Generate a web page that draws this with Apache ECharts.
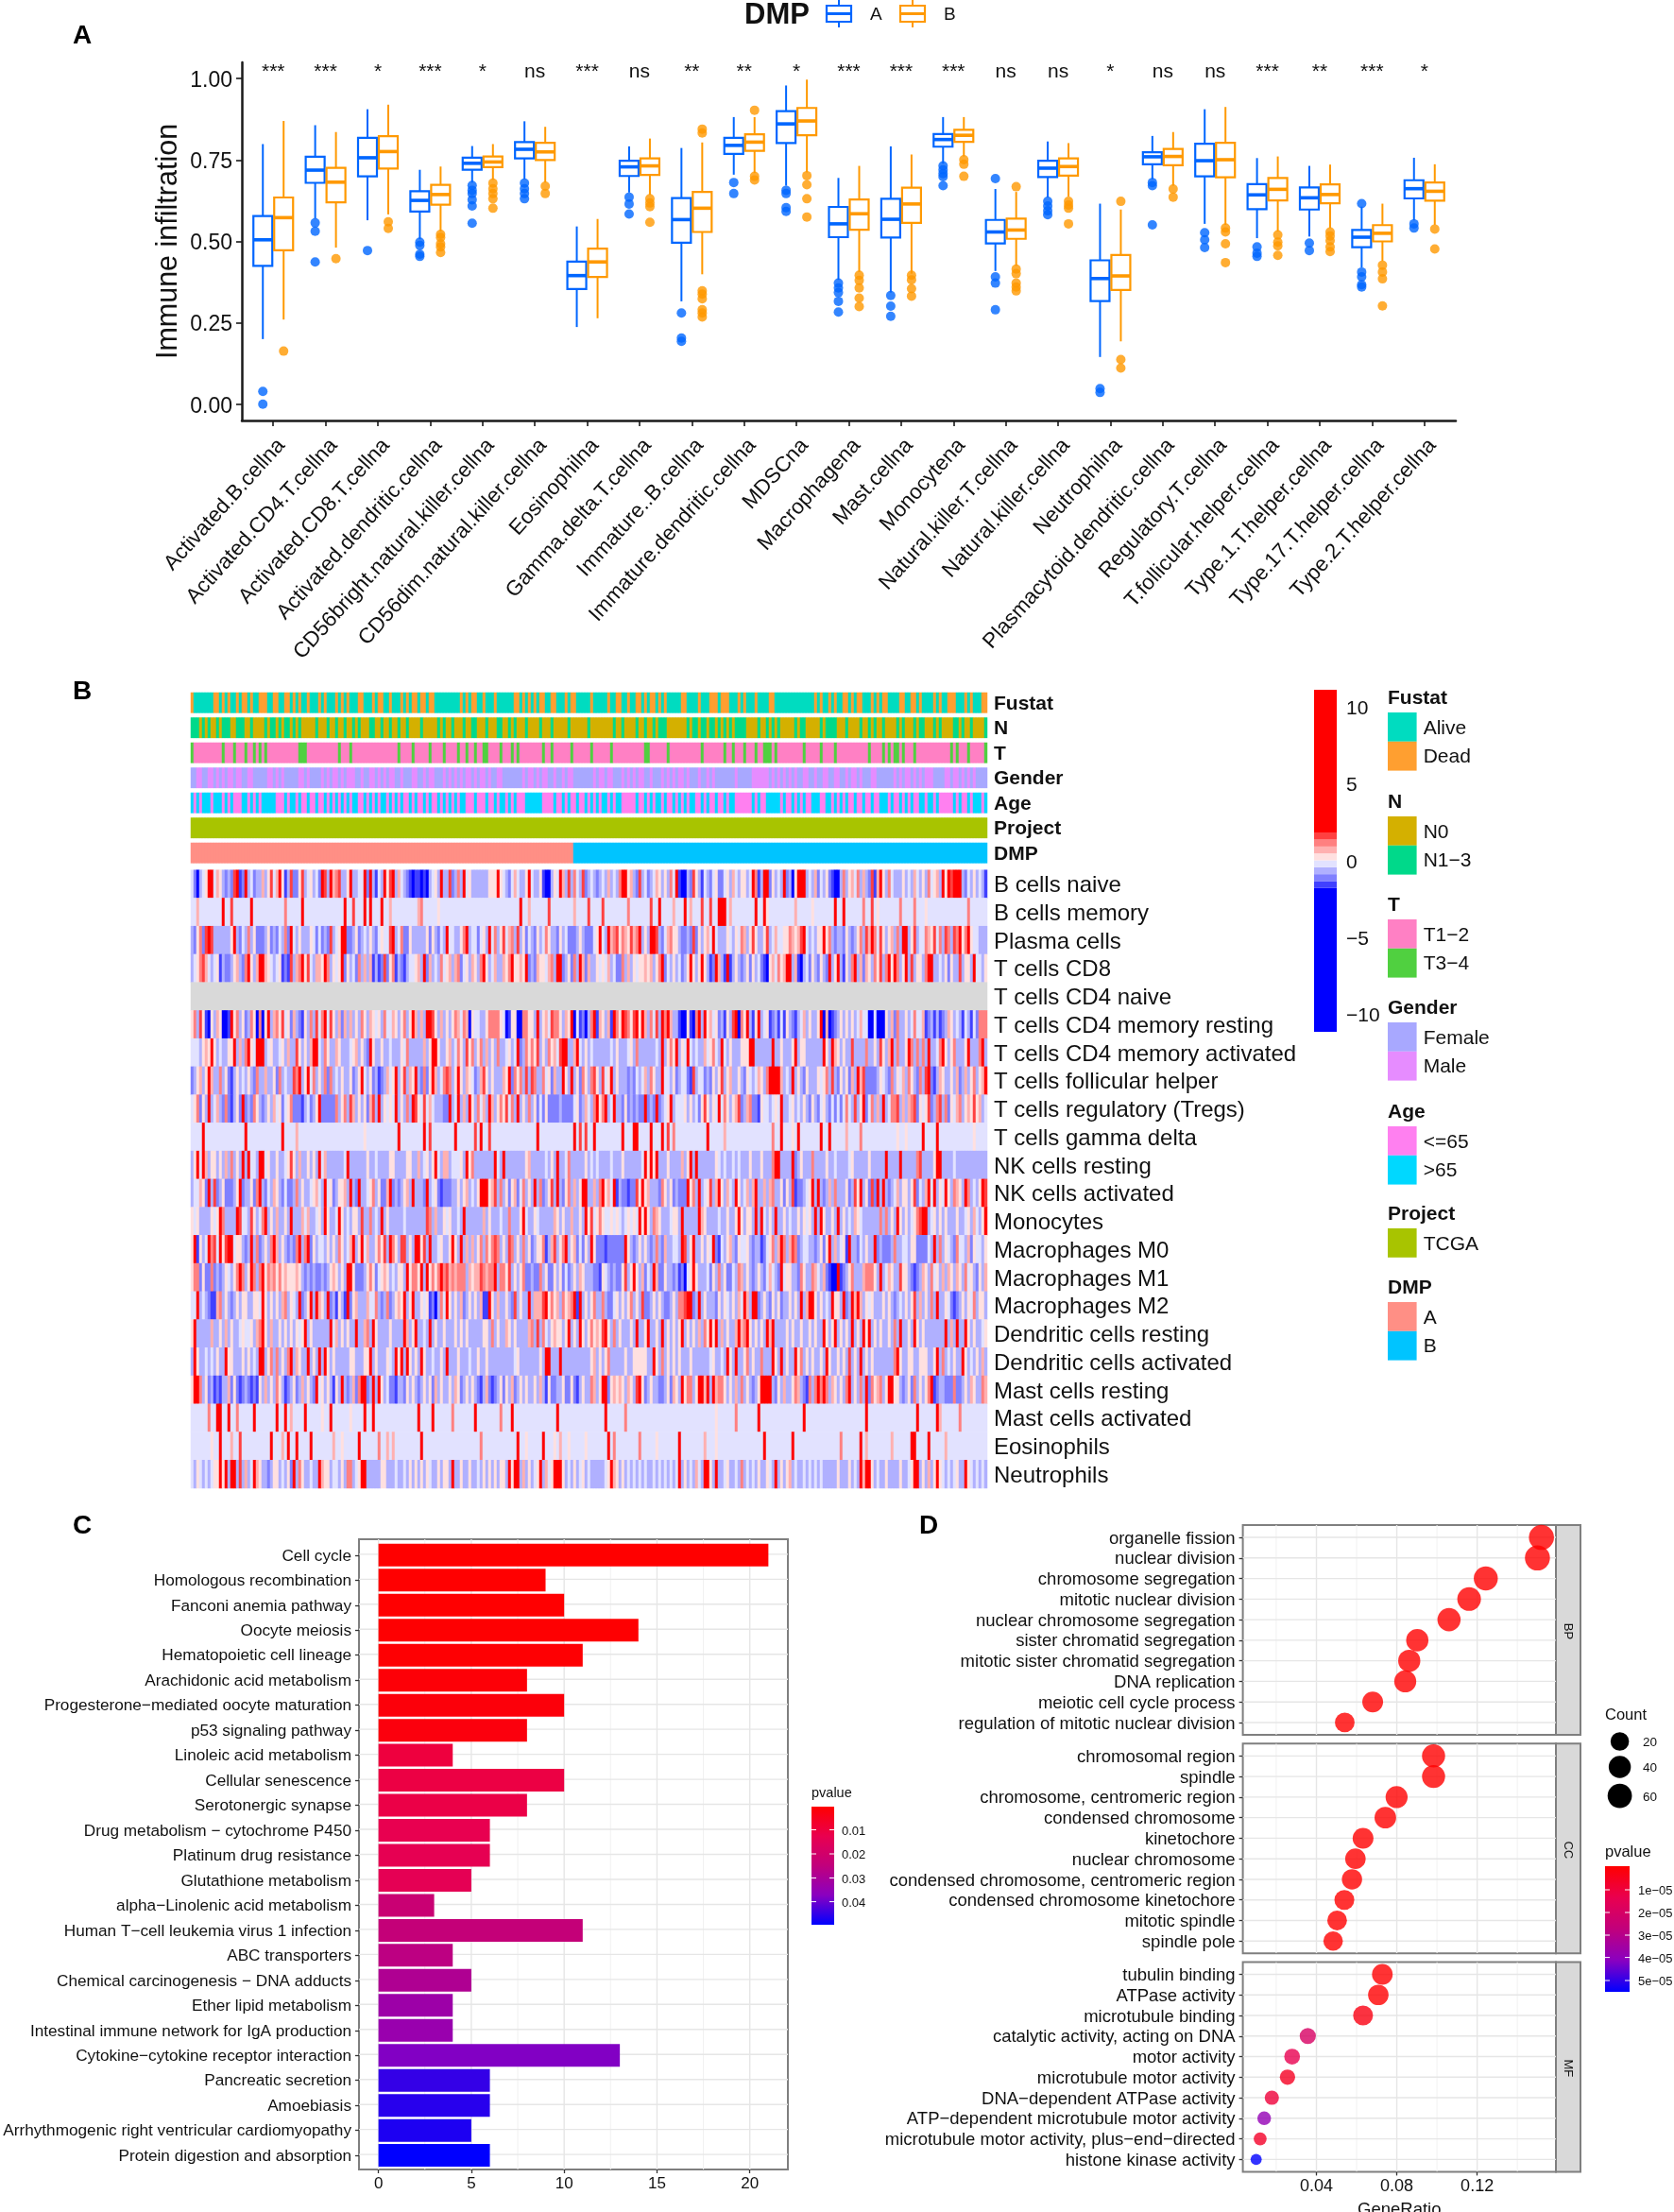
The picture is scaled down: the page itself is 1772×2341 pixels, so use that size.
<!DOCTYPE html>
<html>
<head>
<meta charset="utf-8">
<title>DMP figure</title>
<script src="https://cdn.jsdelivr.net/npm/echarts@6/dist/echarts.min.js"></script>
<style>
html, body { margin: 0; padding: 0; background: #fff; }
#chart { width: 1772px; height: 2341px; }
</style>
</head>
<body>
<div id="chart"></div>
<script>
// ---- panel A ----
const immuneCells = ['Activated.B.cellna', 'Activated.CD4.T.cellna', 'Activated.CD8.T.cellna', 'Activated.dendritic.cellna',
    'CD56bright.natural.killer.cellna', 'CD56dim.natural.killer.cellna', 'Eosinophilna', 'Gamma.delta.T.cellna',
    'Immature..B.cellna', 'Immature.dendritic.cellna', 'MDSCna', 'Macrophagena', 'Mast.cellna', 'Monocytena',
    'Natural.killer.T.cellna', 'Natural.killer.cellna', 'Neutrophilna', 'Plasmacytoid.dendritic.cellna',
    'Regulatory.T.cellna', 'T.follicular.helper.cellna', 'Type.1.T.helper.cellna', 'Type.17.T.helper.cellna', 'Type.2.T.helper.cellna'];
const sigLabels = ['***', '***', '*', '***', '*', 'ns', '***', 'ns', '**', '**', '*', '***', '***', '***', 'ns', 'ns', '*', 'ns', 'ns', '***', '**', '***', '*'];
// low, q1, median, q3, high
const boxStatsA = [
    [.20, .425, .505, .578, .799], [.57, .68, .719, .76, .857], [.565, .70, .757, .818, .906], [.507, .592, .626, .654, .72],
    [.681, .72, .74, .757, .793], [.691, .755, .783, .805, .869], [.237, .354, .395, .438, .546], [.65, .701, .729, .748, .792],
    [.316, .496, .567, .633, .787], [.705, .769, .795, .818, .882], [.671, .802, .861, .90, .979], [.382, .513, .554, .606, .695],
    [.343, .512, .568, .631, .792], [.739, .791, .813, .83, .882], [.409, .494, .529, .566, .661], [.635, .698, .725, .748, .807],
    [.145, .317, .386, .442, .616], [.691, .737, .76, .774, .824], [.554, .70, .748, .80, .906], [.51, .599, .643, .676, .756],
    [.515, .598, .634, .666, .732], [.42, .482, .513, .535, .607], [.565, .632, .662, .688, .757]];
const boxStatsB = [
    [.26, .473, .573, .635, .87], [.481, .62, .682, .726, .836], [.583, .724, .776, .823, .92], [.531, .613, .644, .674, .73],
    [.689, .728, .744, .761, .799], [.681, .75, .775, .803, .852], [.264, .391, .437, .478, .569], [.643, .704, .732, .755, .816],
    [.399, .529, .602, .652, .804], [.71, .778, .805, .829, .882], [.712, .826, .87, .91, .997], [.406, .536, .585, .629, .732],
    [.401, .557, .615, .665, .767], [.761, .806, .826, .843, .882], [.425, .508, .535, .57, .652], [.638, .702, .73, .755, .802],
    [.193, .351, .394, .458, .598], [.671, .734, .761, .784, .836], [.551, .697, .751, .803, .913], [.531, .626, .66, .695, .761],
    [.541, .617, .644, .675, .736], [.44, .50, .525, .55, .616], [.551, .625, .654, .681, .737]];
const outliersA = [
    [.039, 0], [.557, .531, .437], [.472], [.498, .488, .461, .454], [.672, .657, .647, .628, .609, .556], [.679, .662, .647, .631], [],
    [.636, .615, .584], [.28, .203, .193], [.681, .647], [.657, .647, .604, .592], [.372, .357, .343, .316, .283], [.334, .301, .27],
    [.732, .72, .708, .699, .671], [.693, .391, .372, .29], [.623, .609, .594, .582], [.048, .036], [.681, .671, .551], [.527, .505, .481],
    [.483, .464, .454], [.495, .472], [.616, .406, .391, .367, .36], [.554, .541]];
const outliersB = [
    [.163], [.447], [.56, .54], [.522, .512, .493, .483, .466], [.679, .662, .647, .631, .602], [.67, .647], [],
    [.631, .618, .607, .559], [.845, .833, .348, .338, .324, .29, .28, .268], [.903, .70, .689], [.702, .674, .631, .575], [.396, .38, .357, .326, .30],
    [.396, .382, .355, .332], [.751, .737, .70], [.668, .415, .401, .372, .36, .348], [.623, .612, .602, .554], [.623, .137, .111], [.661, .636],
    [.541, .529, .493, .435], [.52, .498, .486, .457], [.529, .517, .502, .483, .469], [.427, .406, .385, .302], [.538, .477]];
const immuneTicks = [0, .25, .5, .75, 1];

// ---- panel B ----
const trackNames = ['Fustat', 'N', 'T', 'Gender', 'Age', 'Project', 'DMP'];
const fustatDead = [0, 8, 9, 11, 13, 16, 18, 19, 21, 24, 25, 26, 29, 30, 33, 34, 36, 38, 41, 45, 47, 51, 53, 55, 59, 60, 64, 66, 67, 70, 74, 76, 78, 79, 81, 82, 84, 85, 95, 97, 99, 100, 103, 107, 114, 115, 117, 119, 121, 123, 124, 127, 128, 132, 134, 135,
    141, 147, 150, 151, 154, 157, 158, 160, 162, 163, 165, 167, 173, 174, 179, 183, 184, 185, 187, 188, 189, 193, 195, 199, 204, 205, 220, 222, 225, 227, 230, 231, 233, 235, 236, 240, 242, 244, 245, 250, 251, 254, 255, 257, 262, 264, 267, 268, 269, 273, 275, 279, 280];
const nLate = [0, 1, 2, 4, 6, 9, 11, 12, 13, 16, 17, 18, 21, 26, 28, 29, 31, 33, 34, 36, 38, 44, 48, 51, 54, 57, 59, 63, 64, 67, 70, 73, 76, 81, 87, 89, 92, 96, 99, 100, 104, 108, 109, 112, 114, 118, 123, 127, 133, 140,
    149, 152, 157, 160, 163, 165, 166, 167, 175, 177, 178, 180, 181, 183, 184, 186, 188, 190, 192, 193, 194, 195, 200, 203, 205, 207, 213, 215, 216, 222, 224, 225, 226, 227, 231, 236, 239, 241, 244, 249, 251, 255, 257, 258, 262, 264, 269, 270, 272, 275, 280];
const tLate = [0, 11, 15, 19, 22, 24, 26, 38, 39, 40, 52, 56, 73, 78, 84, 89, 94, 97, 100, 103, 104, 109, 113, 115, 124, 127, 134,
    141, 148, 160, 161, 168, 180, 188, 191, 195, 199, 202, 203, 204, 206, 216, 222, 227, 239, 244, 246, 248, 249, 251, 255, 268, 270, 274, 280];
const genderRow = '0011001101 0101101100 1100000110 1010000011 0100001010 1101011100 1001101010 1100100011 0010110001 0101010110 1011010011 0000000101 1010110010 0101100000 0 ' +
    '0101101100 0101010110 0100010101 0110100010 0101000000 0100000111 1110101010 1010011001 0011001100 1011010001 1000000101 0110101011 1000011011 0101010000';
const ageRow = '1010111011 1010100011 0101011111 0001011010 0100100101 0101010110 0101010110 1010100101 0010100101 0101011000 1000100101 1010100011 1111000010 0101001001 0 ' +
    '1010110101 1000001001 0101101001 0101011001 0100100101 1000000101 0011111010 0101010011 1001101010 1001001001 0011101001 0101001101 1010000010 1001011101';
const dmpSplitColumn = 135;
const columnCount = 281;

const heatCells = ['B cells naive', 'B cells memory', 'Plasma cells', 'T cells CD8', 'T cells CD4 naive', 'T cells CD4 memory resting',
    'T cells CD4 memory activated', 'T cells follicular helper', 'T cells regulatory (Tregs)', 'T cells gamma delta', 'NK cells resting',
    'NK cells activated', 'Monocytes', 'Macrophages M0', 'Macrophages M1', 'Macrophages M2', 'Dendritic cells resting',
    'Dendritic cells activated', 'Mast cells resting', 'Mast cells activated', 'Eosinophils', 'Neutrophils'];

// one digit per column, 0 = full blue ... 9 = full red
const bNaive = '4203459946 5323289129 3423363584 6951382258 3453429839 6783359334 4929314395 8936432101 1010345393 3823739453 3333355595 4324643359 4335100354 9638374382 3 4323436343 7995632834 2346535374 9100328531 4324522453 6435534971 3992534392 3059993436 2435210037 3564736328 1695374333 5343643537 4563959899 9324353431';
const plasma = '3257289833 3333593243 7352223523 2437294353 3354242328 3459922352 3435324544 8934722533 3335253243 9443357934 4245394735 8467383524 3253475332 5342223532 2 2459439678 5765867935 3998324675 5322328253 5649433354 3547635853 3583464455 7656894343 5595732332 5323573869 7485356373 9935834476 5847387387 9579544333';
const cd8 = '3457864345 1322356327 9536996543 4512183679 5843665973 5459253427 3636131282 5713213445 6392634374 5636724536 5379534633 6579556592 3265546739 9235273962 6 3354546342 2736354556 5635792435 3423595359 5312963191 3532352534 2105647569 9361034253 2532935931 5379362653 7583795973 5938355379 9334352533 8355394435';
const cd4Resting = '5738510536 5001957352 3750705936 7584526321 5373847948 5362636353 7536545374 4653573596 3639985363 5357647605 4433577775 4015500775 5393564877 5365904120 3 7916536197 5987589596 3748397963 3100510793 9564523153 8907593159 3451231415 3213463533 5906012353 5353464400 4000536273 3534744612 3131236534 3143142777';
const cd4Activated = '4443565953 4335593637 9549993453 3453633853 5369943753 3653334563 5329533533 4333547333 3363599533 5634753857 3573635373 3453492375 7583537564 8993369435 3 4333333435 3334537333 3334393575 9354943433 6457439435 3335559933 3333933533 3593553333 3395396535 3383333733 5385369373 3597373739 3347953573 3359333793';
const follicular = '2356359633 7352135343 5327336335 2734338793 5947353727 3435335235 9435231236 4593583659 3272596347 8735953654 2368535333 6592757383 8733745263 3953935275 3 7853845935 3332324346 3753394435 2344218344 2325358356 3353254346 5379999634 3935325333 5457383253 5263968222 2354327354 6375327389 2136533536 2363573569';
const tregs = '4572539346 3272135292 3275323536 4524572221 3423592222 2735738635 3526839354 5493537398 5484643332 2934936395 3746396357 5847393537 3524252222 3222245236 4 3795793493 3252323229 2329234593 4445353425 8535494753 5682367221 5443454933 4534353253 2453242424 7438359247 3639347783 6367825458 2378372546 7356585634';
const nkResting = '3594963553 5363735393 9443994533 5334585363 3535394633 3333493333 3353343333 5533335533 6345359436 6344453957 3333333943 9333333356 3333343539 3347333335 3 4343333433 3533333349 5959333533 3363593933 3333543433 4343335333 5333799333 3923533373 3335334333 3453333353 3333933339 3333378333 3599333343 3333333333';
const nkActivated = '3446529382 3522235923 3527932436 5324223735 3345643945 2355639329 3345735226 9232356393 3329345212 2233535634 3599956837 3525624735 3937235839 3257363599 3 3637956491 3221228595 6333275352 3222957393 4583695364 3953463693 3636733525 3812234593 9323637333 5238593528 2939323463 5535824369 4935495376 5397343598';
const monocytes = '5453333545 9733339844 3853479353 6335393336 4633453953 3495343553 8337343935 3333343333 3338736335 4533439333 3336353334 3373335943 3543333365 3533633539 5 8457544545 4345454959 5376533345 5393333396 5333343353 3595355393 9435393353 4335354539 3953353935 3436543333 3373735395 3534578993 4535353335 3345364359';
const m0 = '5915349784 9589945532 3937235379 6353232793 7925344353 5375346935 9463357583 9753883539 9583933453 3595393636 3573757873 5387353735 2355713683 5793562425 3 9522212222 2295323535 3237326334 4398359335 3549214356 3254453233 1245736973 6872344332 3525936345 1933243533 9232223733 4435522224 3937354327 4436254435';
const m1 = '5772522723 2354357973 5973795767 5756555653 2323223235 6535399522 2357524565 3435539577 5939575797 8676777365 6687677937 7583535722 3227352253 5242353653 3 3221543232 2583595362 4396225332 3120459533 3425373522 4376353235 3246432945 5332753376 4362100912 3573336777 5393465338 5532123653 7453636536 5374532536';
const m2 = '4493432116 7353235355 3355495353 5367354392 3593965392 3153192563 3364473237 2356593593 3545120374 9535362353 5361195363 3532835339 3666895756 3756791935 3 5733732245 3535735382 2353532235 3778992393 5333253543 5364963992 3532535233 5353936995 3534395539 2396963545 3335353234 3535836353 7393354212 3535473553';
const dcResting = '5933333633 5363533454 4536795363 3535353545 9353333339 4635353393 3673953333 5333396359 3343935335 3335353533 3335537353 3653533336 7383743565 5359353953 5 7565895373 5333539335 9335393535 3593535363 7595936353 3696795353 5396933335 3533533535 3395359353 5393539593 5353353739 3353953533 3333393639 3395353345';
const dcActivated = '3953343435 3395533353 5343993573 7353793653 3935393953 5333335533 3559353335 4395939535 3953343353 9333533343 3533533333 3333453333 3335399333 9333333333 3 5635357333 3353355555 3395373535 3533353333 3345334395 3933573533 7333953935 3395735353 3539533535 3835393535 3333333795 3355335553 3593734353 3953435363';
const mastResting = '5997352312 1336252123 2121536353 7531235236 3532945353 1539323627 9923939534 2213325353 2353526353 3536523535 3213621235 2536235353 3536315223 3522521353 3 7635992565 6536538952 3533223526 5395773599 6939677535 3637353235 9999325363 3576321737 9797365353 7935373927 5673599553 2352735357 9123322272 2353653376';
const neutrophils = '4354343455 9593993836 3496533235 5343529375 3343396553 4435377345 9933333553 3343343535 3535433535 5393353353 3435353535 5395993635 3459364599 9534353453 4 3333345965 3534343434 3343434343 4935343643 9953933453 3437343435 3354393535 6343343434 3433333533 3534396995 3433533335 3345993536 3595434345 3395434343';
// sparse rows: [column, digit] on a pale background
const bMemory = [[2, 6], [11, 9], [14, 8], [21, 9], [33, 7], [39, 9], [54, 9], [57, 8], [61, 9], [63, 9], [67, 9], [70, 6], [80, 6], [81, 7], [87, 5], [116, 9], [119, 6], [126, 8], [135, 6], [140, 8],
    [145, 8], [154, 7], [162, 8], [165, 9], [170, 6], [174, 9], [176, 6], [180, 8], [183, 8], [186, 9], [187, 9], [188, 9], [190, 6], [199, 9], [202, 9], [203, 5], [213, 6], [219, 5], [227, 9], [230, 9], [237, 7], [240, 8], [242, 5], [250, 7], [255, 7], [259, 5], [274, 7]];
const gammaDelta = [[4, 9], [19, 9], [32, 9], [37, 6], [61, 5], [73, 9], [82, 9], [84, 8], [93, 9], [100, 8], [102, 9], [105, 8], [122, 9], [135, 9], [137, 8], [139, 8],
    [142, 9], [152, 9], [156, 9], [157, 9], [162, 9], [166, 9], [168, 8], [170, 7], [182, 9], [188, 6], [205, 7], [208, 9], [212, 5], [214, 9], [222, 9], [225, 9], [231, 6], [236, 7], [249, 5], [252, 5], [258, 9], [263, 9], [276, 5]];
const mastActivated = [[6, 7], [9, 9], [10, 9], [13, 9], [16, 7], [22, 9], [30, 9], [33, 9], [35, 6], [40, 9], [46, 5], [49, 9], [56, 5], [61, 9], [64, 9], [80, 9], [85, 9], [92, 7], [100, 9], [109, 7], [113, 9], [129, 9],
    [146, 9], [153, 7], [185, 5], [192, 7], [200, 9], [216, 9], [238, 9], [256, 9], [263, 9], [264, 6], [271, 7]];
const eosinophils = [[7, 5], [10, 9], [14, 6], [17, 8], [28, 9], [32, 6], [34, 9], [37, 9], [42, 9], [50, 6], [53, 5], [59, 9], [66, 7], [69, 6], [71, 6], [81, 9], [102, 7], [115, 9], [118, 5], [124, 9], [128, 5], [130, 6], [133, 5], [139, 5],
    [147, 9], [149, 7], [158, 7], [164, 5], [172, 9], [181, 6], [185, 5], [202, 9], [212, 9], [229, 7], [236, 9], [238, 6], [247, 6], [254, 9], [255, 9], [260, 9], [266, 6]];
const levelValues = [-3, -1.5, -1.1, -.6, -.2, .3, .7, 1.2, 1.6, 3];
const levelBreaks = [-11.1, -1.74, -1.29, -.84, -.39, .06, .51, .96, 1.41, 1.88, 11.16];
const colorbarTicks = [-10, -5, 0, 5, 10];

// ---- panel C ----
const pathways = ['Cell cycle', 'Homologous recombination', 'Fanconi anemia pathway', 'Oocyte meiosis', 'Hematopoietic cell lineage',
    'Arachidonic acid metabolism', 'Progesterone\u2212mediated oocyte maturation', 'p53 signaling pathway', 'Linoleic acid metabolism',
    'Cellular senescence', 'Serotonergic synapse', 'Drug metabolism \u2212 cytochrome P450', 'Platinum drug resistance', 'Glutathione metabolism',
    'alpha\u2212Linolenic acid metabolism', 'Human T\u2212cell leukemia virus 1 infection', 'ABC transporters', 'Chemical carcinogenesis \u2212 DNA adducts',
    'Ether lipid metabolism', 'Intestinal immune network for IgA production', 'Cytokine\u2212cytokine receptor interaction', 'Pancreatic secretion',
    'Amoebiasis', 'Arrhythmogenic right ventricular cardiomyopathy', 'Protein digestion and absorption'];
const pathwayCounts = [21, 9, 10, 14, 11, 8, 10, 8, 4, 10, 8, 6, 6, 5, 3, 11, 4, 5, 4, 4, 13, 6, 6, 5, 6];
const pathwayP = [.0004, .0005, .0006, .0007, .0008, .0015, .002, .0025, .010, .011, .0115, .013, .0135, .014, .0225, .024, .026, .029, .033, .034, .038, .045, .046, .047, .0496];
const barTicks = [0, 5, 10, 15, 20];
const barMinorTicks = [2.5, 7.5, 12.5, 17.5];

// ---- panel D ----
const ontologyNames = ['BP', 'CC', 'MF'];
const bpTerms = ['organelle fission', 'nuclear division', 'chromosome segregation', 'mitotic nuclear division', 'nuclear chromosome segregation',
    'sister chromatid segregation', 'mitotic sister chromatid segregation', 'DNA replication', 'meiotic cell cycle process', 'regulation of mitotic nuclear division'];
const bpRatio = [.152, .150, .1243, .116, .106, .0902, .0862, .0842, .068, .0541];
const bpCount = [70, 69, 57, 53, 49, 41, 40, 39, 31, 25];
const bpP = [1e-9, 1e-9, 1e-9, 1e-9, 1e-9, 1e-9, 1e-9, 1e-9, 1e-9, 1e-9];
const ccTerms = ['chromosomal region', 'spindle', 'chromosome, centromeric region', 'condensed chromosome', 'kinetochore', 'nuclear chromosome',
    'condensed chromosome, centromeric region', 'condensed chromosome kinetochore', 'mitotic spindle', 'spindle pole'];
const ccRatio = [.0983, .0983, .0799, .0743, .0632, .0594, .0577, .0539, .0503, .0483];
const ccCount = [48, 48, 39, 36, 31, 29, 28, 26, 25, 24];
const ccP = [1e-8, 1e-8, 1e-8, 1e-8, 1e-8, 1e-8, 1e-8, 1e-8, 1e-8, 1e-8];
const mfTerms = ['tubulin binding', 'ATPase activity', 'microtubule binding', 'catalytic activity, acting on DNA', 'motor activity', 'microtubule motor activity',
    'DNA\u2212dependent ATPase activity', 'ATP\u2212dependent microtubule motor activity', 'microtubule motor activity, plus\u2212end\u2212directed', 'histone kinase activity'];
const mfRatio = [.0728, .0708, .0632, .0357, .0279, .0256, .0178, .014, .012, .01];
const mfCount = [30, 29, 26, 13, 12, 11, 9, 8, 7, 5];
const mfP = [1e-7, 2e-7, 3e-6, 2e-5, 1.4e-5, 6e-6, 1e-5, 3.9e-5, 7e-6, 5.5e-5];
const ratioTicks = [.04, .08, .12];
const ratioMinorTicks = [.02, .06, .1, .14];
const countLegend = [20, 40, 60];

// ---- styles ----
const FONT = '"Liberation Sans", Arial, sans-serif';
const INK = '#111';
const BORDER = '#7f7f7f';
const BLUE = '#0066ff';
const ORANGE = '#ff9900';
const heatColors = ['#0000ff', '#4040ff', '#8080ff', '#b0b0ff', '#e2e2ff', '#ffe0e0', '#ffb0b0', '#ff8080', '#ff4040', '#ff0000'];
const ramp = ['#ff0000', '#e9004f', '#c1007c', '#8a00c0', '#0000ff'];
const trackColors = {
    Fustat: ['#00dcc0', '#ff9f30'], N: ['#d4b000', '#00d98a'], T: ['#ff80c4', '#50d040'], Gender: ['#a8a8ff', '#e68cff'],
    Age: ['#ff80f0', '#00d8ff'], Project: ['#a8c400'], DMP: ['#ff8f85', '#00c4ff']
};
const legendLabels = {
    Fustat: ['Alive', 'Dead'], N: ['N0', 'N1\u22123'], T: ['T1\u22122', 'T3\u22124'], Gender: ['Female', 'Male'],
    Age: ['<=65', '>65'], Project: ['TCGA'], DMP: ['A', 'B']
};
const legendTitleY = [738, 848, 957, 1066, 1176, 1284, 1362];

const chart = echarts.init(document.getElementById('chart'));
const grid = [], xAxis = [], yAxis = [], series = [], graphic = [], visualMap = [];

function addGrid(g, x, y) {
    // outerBoundsMode none: v6 would otherwise squeeze a grid whose labels reach the page edge
    grid.push(Object.assign({ containLabel: false, outerBoundsMode: 'none' }, g));
    const i = grid.length - 1;
    xAxis.push(Object.assign({ gridIndex: i }, x));
    yAxis.push(Object.assign({ gridIndex: i }, y));
    return i;
}

function addSeries(s) {
    series.push(s);
    return series.length - 1;
}

function text(x, y, str, font, opts) {
    graphic.push(Object.assign({
        type: 'text', x: x, y: y + 1.5, silent: true,
        style: Object.assign({ text: str, font: font + ' ' + FONT, fill: INK, textAlign: 'left', textVerticalAlign: 'middle' }, opts || {})
    }));
}

function rect(x, y, w, h, fill, stroke, lineWidth) {
    graphic.push({
        type: 'rect', silent: true, shape: { x: x, y: y, width: w, height: h },
        style: { fill: fill, stroke: stroke || null, lineWidth: lineWidth || 0 }
    });
}

// ggplot-like grid lines, drawn as a custom series because min is not a tick multiple
function gridLines(axisIdx, vertical, values, color, width) {
    addSeries({
        type: 'custom', xAxisIndex: axisIdx, yAxisIndex: axisIdx, silent: true, z: 1, clip: true,
        data: values.map((v) => [v]),
        renderItem: (params, api) => {
            const c = params.coordSys;
            const p = vertical ? api.coord([api.value(0), 0])[0] : api.coord([0, api.value(0)])[1];
            const shape = vertical ? { x1: p, y1: c.y, x2: p, y2: c.y + c.height } : { x1: c.x, y1: p, x2: c.x + c.width, y2: p };
            return { type: 'line', shape: shape, style: { stroke: color, lineWidth: width } };
        }
    });
}

// ---- panel A ----
const gridA = addGrid({ left: 256, top: 66, width: 1285, height: 379 }, {
    type: 'value', min: -0.6, max: 22.6,
    axisLine: { show: true, onZero: false, lineStyle: { color: '#1a1a1a', width: 2.5 } },
    axisTick: { show: true, length: 6, lineStyle: { color: '#1a1a1a', width: 1.6 }, customValues: immuneCells.map((c, i) => i) },
    axisLabel: {
        show: true, customValues: immuneCells.map((c, i) => i), rotate: 48, margin: 15, interval: 0,
        verticalAlign: 'top', fontFamily: FONT, fontSize: 22.5, color: INK, hideOverlap: false,
        formatter: (v) => immuneCells[v]
    },
    splitLine: { show: false }
}, {
    type: 'value', min: -0.05, max: 1.05,
    name: 'Immune infiltration', nameLocation: 'middle', nameGap: 62, nameRotate: 90, nameMoveOverlap: false,
    nameTextStyle: { fontFamily: FONT, fontSize: 30.5, color: INK },
    axisLine: { show: true, onZero: false, lineStyle: { color: '#1a1a1a', width: 2.5 } },
    axisTick: { show: true, length: 6, lineStyle: { color: '#1a1a1a', width: 1.6 }, customValues: immuneTicks },
    axisLabel: { show: true, customValues: immuneTicks, margin: 10, verticalAlign: 'top', lineHeight: 5, fontFamily: FONT, fontSize: 23, color: INK, formatter: (v) => v.toFixed(2) },
    splitLine: { show: false }
});

function boxRenderer(offset, color) {
    return (params, api) => {
        const x = api.coord([api.value(0), 0])[0] + offset;
        const y = (d) => api.coord([0, api.value(d)])[1];
        const line = (x1, y1, x2, y2, w) => ({ type: 'line', shape: { x1: x1, y1: y1, x2: x2, y2: y2 }, style: { stroke: color, lineWidth: w } });
        return {
            type: 'group',
            children: [
                line(x, y(1), x, y(2), 2),
                line(x, y(4), x, y(5), 2),
                { type: 'rect', shape: { x: x - 10, y: y(4), width: 20, height: y(2) - y(4) }, style: { fill: '#fff', stroke: color, lineWidth: 2.2 } },
                line(x - 10, y(3), x + 10, y(3), 3.6)
            ]
        };
    };
}

[[boxStatsA, outliersA, -11, BLUE], [boxStatsB, outliersB, 11, ORANGE]].forEach(([stats, outliers, offset, color]) => {
    const points = [];
    outliers.forEach((list, i) => list.forEach((v) => points.push([i, v])));
    addSeries({
        type: 'scatter', xAxisIndex: gridA, yAxisIndex: gridA, data: points, symbolSize: 10, symbolOffset: [offset, 0],
        itemStyle: { color: color }, silent: true, z: 2, clip: false
    });
    addSeries({
        type: 'custom', xAxisIndex: gridA, yAxisIndex: gridA, silent: true, z: 3,
        data: stats.map((s, i) => [i].concat(s)), renderItem: boxRenderer(offset, color)
    });
});

addSeries({
    type: 'custom', xAxisIndex: gridA, yAxisIndex: gridA, silent: true, z: 4, clip: false,
    data: sigLabels.map((s, i) => [i, 1, s]),
    renderItem: (params, api) => {
        const p = api.coord([api.value(0), api.value(1)]);
        return {
            type: 'text',
            style: { text: sigLabels[params.dataIndex], x: p[0], y: p[1] - 7, textAlign: 'center', textVerticalAlign: 'middle', font: '21px ' + FONT, fill: INK }
        };
    }
});

// legend above panel A
text(788, 15, 'DMP', 'bold 31px');
[[888, BLUE, 'A', 921], [966, ORANGE, 'B', 999]].forEach(([cx, color, label, tx]) => {
    graphic.push({ type: 'line', silent: true, shape: { x1: cx, y1: 0, x2: cx, y2: 29 }, style: { stroke: color, lineWidth: 2 } });
    rect(cx - 13, 6, 26, 17, '#fff', color, 2.2);
    graphic.push({ type: 'line', silent: true, shape: { x1: cx - 13, y1: 14.5, x2: cx + 13, y2: 14.5 }, style: { stroke: color, lineWidth: 3 } });
    text(tx, 14, label, '19px');
});

// ---- panel B ----
const columns = [];
for (let c = 0; c < columnCount; c++) columns.push(c);

function parseDigits(str) {
    const s = str.replace(/\s/g, '');
    return columns.map((c) => Number(s[Math.min(c, s.length - 1)]));
}

function sparseDigits(list) {
    const out = columns.map(() => 4);
    list.forEach(([c, d]) => { out[c] = d; });
    return out;
}

function stripes(list) {
    const set = new Set(list);
    return columns.map((c) => (set.has(c) ? 1 : 0));
}

const trackColumns = {
    Fustat: stripes(fustatDead), N: stripes(nLate), T: stripes(tLate), Gender: parseDigits(genderRow), Age: parseDigits(ageRow),
    Project: columns.map(() => 0), DMP: columns.map((c) => (c < dmpSplitColumn ? 0 : 1))
};

const trackTops = [733, 759.5, 786, 812.5, 839, 865.5, 892];
const trackSeries = [];
const trackPieces = [];
let trackCode = 0;
trackNames.forEach((name, t) => {
    const g = addGrid({ left: 202, top: trackTops[t], width: 843, height: 21.4 },
        { type: 'category', data: columns, show: false },
        {
            type: 'category', data: [name], position: 'right',
            axisLine: { show: false }, axisTick: { show: false },
            axisLabel: { margin: 7, verticalAlign: 'top', lineHeight: 3, fontFamily: FONT, fontSize: 21, fontWeight: 'bold', color: INK }
        });
    const base = trackCode;
    trackColors[name].forEach((color) => trackPieces.push({ value: trackCode++, color: color }));
    trackSeries.push(addSeries({
        type: 'heatmap', xAxisIndex: g, yAxisIndex: g, silent: true, progressive: 0,
        data: trackColumns[name].map((v, c) => [c, 0, base + v])
    }));
});
visualMap.push({ type: 'piecewise', show: false, seriesIndex: trackSeries, dimension: 2, pieces: trackPieces });

const heatColumns = [parseDigits(bNaive), sparseDigits(bMemory), parseDigits(plasma), parseDigits(cd8), null, parseDigits(cd4Resting),
    parseDigits(cd4Activated), parseDigits(follicular), parseDigits(tregs), sparseDigits(gammaDelta), parseDigits(nkResting), parseDigits(nkActivated),
    parseDigits(monocytes), parseDigits(m0), parseDigits(m1), parseDigits(m2), parseDigits(dcResting), parseDigits(dcActivated), parseDigits(mastResting),
    sparseDigits(mastActivated), sparseDigits(eosinophils), parseDigits(neutrophils)];

const heatData = [];
heatColumns.forEach((row, r) => {
    columns.forEach((c) => {
        // the CD4 naive row has no variance, it is all NA and shows grey
        heatData.push([c, r, row ? levelValues[row[c]] : 99]);
    });
});

const gridHeat = addGrid({ left: 202, top: 920.7, width: 843, height: 654.3 },
    { type: 'category', data: columns, show: false },
    {
        type: 'category', data: heatCells, inverse: true, position: 'right',
        axisLine: { show: false }, axisTick: { show: false },
        axisLabel: { margin: 7, verticalAlign: 'top', lineHeight: 4, interval: 0, fontFamily: FONT, fontSize: 24, color: INK }
    });
const heatSeries = addSeries({ type: 'heatmap', xAxisIndex: gridHeat, yAxisIndex: gridHeat, silent: true, progressive: 0, data: heatData });
const heatPieces = heatColors.map((color, i) => ({ min: levelBreaks[i], max: levelBreaks[i + 1], color: color }));
heatPieces.push({ min: 98, max: 100, color: '#d9d9d9' });
visualMap.push({ type: 'piecewise', show: false, seriesIndex: heatSeries, dimension: 2, pieces: heatPieces });

// colorbar of the heatmap
const gridBar = addGrid({ left: 1391, top: 730, width: 24, height: 362 }, { type: 'value', min: 0, max: 1, show: false }, {
    type: 'value', min: -11.1, max: 11.16,
    axisLine: { show: false, onZero: false }, axisTick: { show: false },
    splitLine: { show: false }, position: 'right',
    axisLabel: {
        show: true, customValues: colorbarTicks, margin: 10, verticalAlign: 'top', lineHeight: 3, fontFamily: FONT, fontSize: 21, color: INK,
        formatter: (v) => String(v).replace('-', '\u2212'), align: 'left'
    }
});
addSeries({
    type: 'custom', xAxisIndex: gridBar, yAxisIndex: gridBar, silent: true,
    data: heatColors.map((c, i) => [levelBreaks[i], levelBreaks[i + 1]]),
    renderItem: (params, api) => {
        const low = api.coord([0, api.value(0)]);
        const high = api.coord([1, api.value(1)]);
        return { type: 'rect', shape: { x: low[0], y: high[1], width: high[0] - low[0], height: low[1] - high[1] }, style: { fill: heatColors[params.dataIndex] } };
    }
});

// annotation legend
trackNames.forEach((name, t) => {
    const y0 = legendTitleY[t];
    text(1469, y0, name, 'bold 21px');
    trackColors[name].forEach((color, k) => {
        const top = y0 + 16 + k * 30.8;
        rect(1469, top, 30.6, 30.8, color);
        text(1506.7, top + 15.4, legendLabels[name][k], '21px');
    });
});

// ---- panel C ----
const gridCOuter = addGrid({ left: 380, top: 1629, width: 454, height: 667, show: true, borderColor: BORDER, borderWidth: 2, backgroundColor: '#fff' }, {
    type: 'value', min: -1.05, max: 22.05,
    axisLine: { show: false, onZero: false }, splitLine: { show: false },
    axisTick: { show: true, length: 4, lineStyle: { color: '#333', width: 1.3 }, customValues: barTicks },
    axisLabel: { show: true, customValues: barTicks, margin: 7, fontFamily: FONT, fontSize: 17, color: INK }
}, { type: 'value', min: -0.6, max: 24.6, inverse: true, show: false });
gridLines(gridCOuter, true, barMinorTicks, '#f1f1f1', 1);
gridLines(gridCOuter, true, barTicks, '#e6e6e6', 1.4);
gridLines(gridCOuter, false, pathways.map((p, i) => i), '#e6e6e6', 1.4);

const gridCInner = addGrid({ left: 380, top: 1632.6, width: 454, height: 661.75 },
    { type: 'value', min: -1.05, max: 22.05, show: false },
    {
        type: 'category', data: pathways, inverse: true,
        axisLine: { show: false, onZero: false },
        axisTick: { show: true, length: 4, alignWithLabel: true, lineStyle: { color: '#333', width: 1.3 } },
        axisLabel: { margin: 8, verticalAlign: 'top', lineHeight: 2, interval: 0, fontFamily: FONT, fontSize: 17.2, color: INK }
    });
const barSeries = addSeries({
    type: 'bar', xAxisIndex: gridCInner, yAxisIndex: gridCInner, barWidth: 24, silent: true, z: 3,
    data: pathwayCounts.map((n, i) => [n, i, pathwayP[i]]),
    encode: { x: 0, y: 1 }
});
visualMap.push({ type: 'continuous', show: false, seriesIndex: barSeries, dimension: 2, min: .0004, max: .0496, inRange: { color: ramp } });

function gradientBar(x, y, w, h) {
    graphic.push({
        type: 'rect', silent: true, shape: { x: x, y: y, width: w, height: h },
        style: { fill: new echarts.graphic.LinearGradient(0, 0, 0, 1, ramp.map((c, i) => ({ offset: i / (ramp.length - 1), color: c }))) }
    });
}

text(859, 1896, 'pvalue', '14.5px');
gradientBar(859, 1912, 24, 125);
[[.01, 1936.5], [.02, 1962], [.03, 1987.5], [.04, 2012.6]].forEach(([p, y]) => {
    graphic.push({ type: 'line', silent: true, shape: { x1: 859, y1: y, x2: 864, y2: y }, style: { stroke: '#fff', lineWidth: 1 } });
    graphic.push({ type: 'line', silent: true, shape: { x1: 878, y1: y, x2: 883, y2: y }, style: { stroke: '#fff', lineWidth: 1 } });
    text(891, y, p.toFixed(2), '13px');
});

// ---- panel D ----
const ontologyData = [[bpTerms, bpRatio, bpCount, bpP], [ccTerms, ccRatio, ccCount, ccP], [mfTerms, mfRatio, mfCount, mfP]];
const panelTops = [1614, 1845.3, 2076.4];
const dotSeries = [];
const dotSize = (count) => 2.8 + 5.6 * Math.log(count);
ontologyData.forEach(([terms, ratio, count, p], k) => {
    const last = k === ontologyData.length - 1;
    const g = addGrid({ left: 1315.6, top: panelTops[k], width: 331.4, height: 222, show: true, borderColor: BORDER, borderWidth: 2, backgroundColor: '#fff' }, {
        type: 'value', min: .00337, max: .1592,
        axisLine: { show: false, onZero: false }, splitLine: { show: false },
        axisTick: { show: last, length: 4, lineStyle: { color: '#333', width: 1.3 }, customValues: ratioTicks },
        axisLabel: { show: last, customValues: ratioTicks, margin: 7, fontFamily: FONT, fontSize: 18, color: INK, formatter: (v) => v.toFixed(2) },
        name: last ? 'GeneRatio' : '', nameLocation: 'middle', nameGap: 31,
        nameTextStyle: { fontFamily: FONT, fontSize: 18.5, color: INK }
    }, {
        type: 'value', min: -0.6, max: 9.6, inverse: true,
        axisLine: { show: false, onZero: false }, splitLine: { show: false },
        axisTick: { show: true, length: 4, lineStyle: { color: '#333', width: 1.3 }, customValues: terms.map((t, i) => i) },
        axisLabel: { show: true, customValues: terms.map((t, i) => i), margin: 8, verticalAlign: 'top', lineHeight: 3, fontFamily: FONT, fontSize: 18.5, color: INK, formatter: (v) => terms[v] }
    });
    gridLines(g, true, ratioMinorTicks, '#f1f1f1', 1);
    gridLines(g, true, ratioTicks, '#e6e6e6', 1.4);
    gridLines(g, false, terms.map((t, i) => i), '#e6e6e6', 1.4);
    dotSeries.push(addSeries({
        type: 'scatter', xAxisIndex: g, yAxisIndex: g, silent: true, z: 3, clip: false,
        data: terms.map((t, i) => [ratio[i], i, p[i], count[i]]),
        encode: { x: 0, y: 1 },
        symbolSize: (v) => dotSize(v[3])
    }));
    rect(1647, panelTops[k], 26, 222, '#d9d9d9', BORDER, 2);
    text(1660, panelTops[k] + 111, ontologyNames[k], '13px', { textAlign: 'center' });
    graphic[graphic.length - 1].rotation = -Math.PI / 2;
});
visualMap.push({ type: 'continuous', show: false, seriesIndex: dotSeries, dimension: 2, min: 0, max: 5.5e-5, inRange: { color: ramp } });

text(1699, 1814, 'Count', '16.5px');
[1843, 1870, 1900.6].forEach((y, i) => {
    graphic.push({ type: 'circle', silent: true, shape: { cx: 1714.6, cy: y, r: dotSize(countLegend[i]) / 2 }, style: { fill: '#000' } });
    text(1739, y, String(countLegend[i]), '13.5px');
});
text(1699, 1959, 'pvalue', '16.5px');
gradientBar(1699, 1975, 26, 133);
[['1e\u221205', 2000], ['2e\u221205', 2024], ['3e\u221205', 2048], ['4e\u221205', 2071.6], ['5e\u221205', 2096]].forEach(([label, y]) => {
    graphic.push({ type: 'line', silent: true, shape: { x1: 1699, y1: y, x2: 1704, y2: y }, style: { stroke: '#fff', lineWidth: 1 } });
    graphic.push({ type: 'line', silent: true, shape: { x1: 1720, y1: y, x2: 1725, y2: y }, style: { stroke: '#fff', lineWidth: 1 } });
    text(1734, y, label, '13px');
});

// panel letters
[['A', 77, 37], ['B', 77, 731], ['C', 77, 1614], ['D', 973, 1614]].forEach(([l, x, y]) => text(x, y, l, 'bold 28px', { fill: '#000' }));

chart.setOption({
    animation: false,
    textStyle: { fontFamily: FONT },
    grid: grid, xAxis: xAxis, yAxis: yAxis, series: series, visualMap: visualMap,
    graphic: { elements: graphic }
});
</script>
</body>
</html>
